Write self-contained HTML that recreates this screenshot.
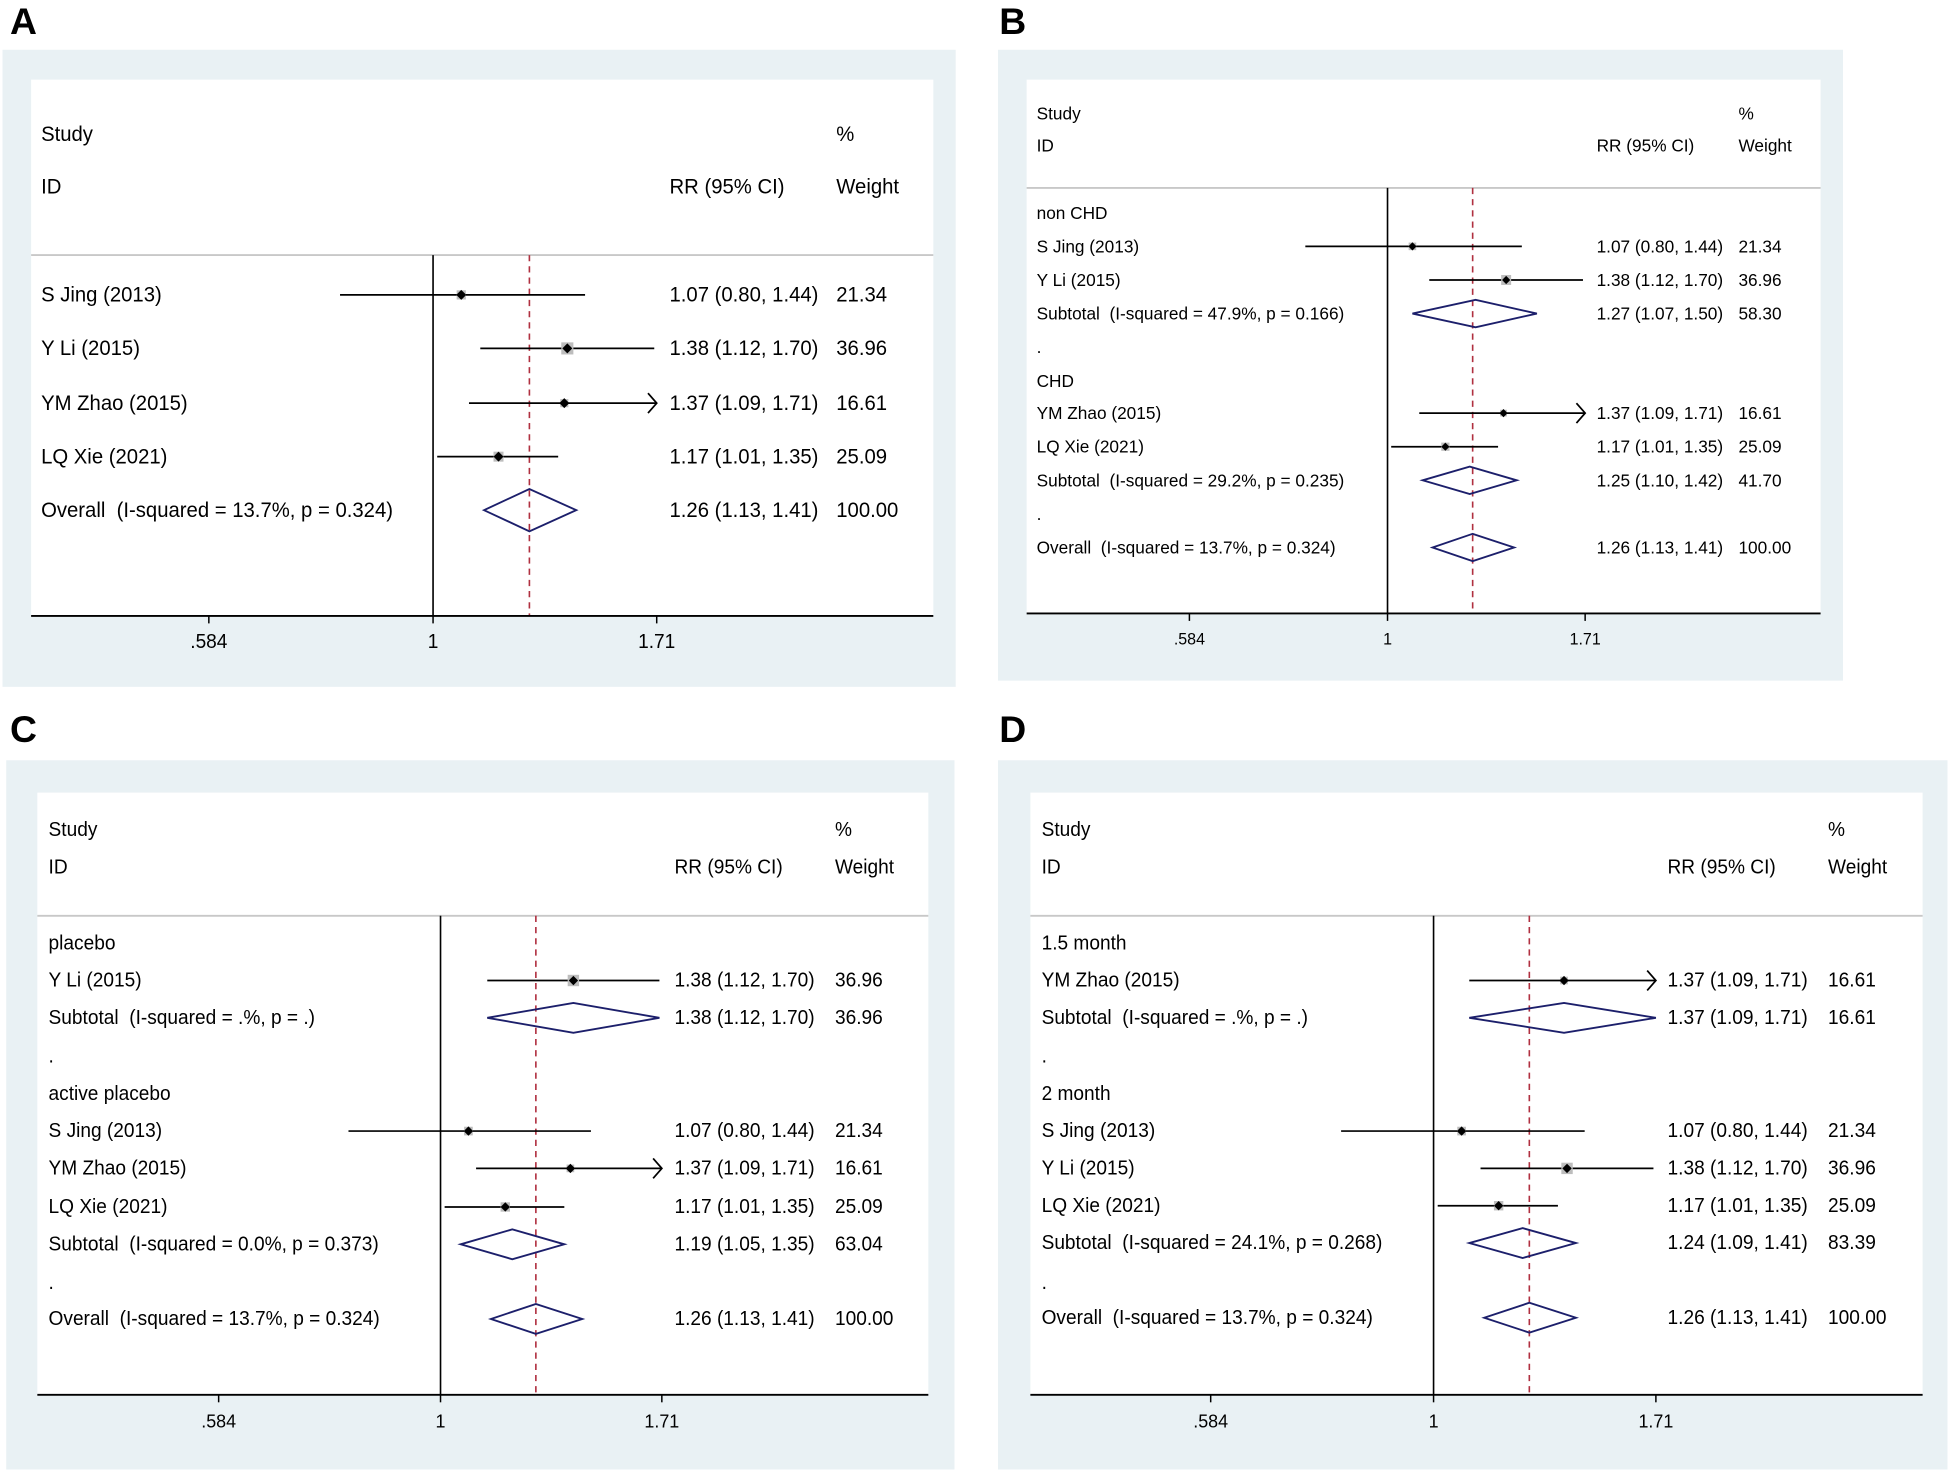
<!DOCTYPE html>
<html><head><meta charset="utf-8"><style>
html,body{margin:0;padding:0;background:#fff}
svg{display:block}
text{font-family:"Liberation Sans",sans-serif;fill:#000;white-space:pre}
</style></head><body>
<svg id="fig" width="1950" height="1472" viewBox="0 0 1567 1183" preserveAspectRatio="none" xmlns="http://www.w3.org/2000/svg" xml:space="preserve"></svg>
<script>
// ---- data ----
const tickLabels = [".584", "1", "1.71"];
const tickValues = [0.584, 1, 1.71];
const overallRR = 1.26;

const aLabels = ["S Jing (2013)", "Y Li (2015)", "YM Zhao (2015)", "LQ Xie (2021)", "Overall  (I-squared = 13.7%, p = 0.324)"];
const aEst = [1.07, 1.38, 1.37, 1.17, 1.26];
const aLo = [0.80, 1.12, 1.09, 1.01, 1.13];
const aHi = [1.44, 1.70, 1.71, 1.35, 1.41];
const aWeight = ["21.34", "36.96", "16.61", "25.09", "100.00"];
const aType = ["s", "s", "s", "s", "d"];

const bLabels = ["non CHD", "S Jing (2013)", "Y Li (2015)", "Subtotal  (I-squared = 47.9%, p = 0.166)", ".", "CHD", "YM Zhao (2015)", "LQ Xie (2021)", "Subtotal  (I-squared = 29.2%, p = 0.235)", ".", "Overall  (I-squared = 13.7%, p = 0.324)"];
const bEst = [null, 1.07, 1.38, 1.27, null, null, 1.37, 1.17, 1.25, null, 1.26];
const bLo = [null, 0.80, 1.12, 1.07, null, null, 1.09, 1.01, 1.10, null, 1.13];
const bHi = [null, 1.44, 1.70, 1.50, null, null, 1.71, 1.35, 1.42, null, 1.41];
const bWeight = ["", "21.34", "36.96", "58.30", "", "", "16.61", "25.09", "41.70", "", "100.00"];
const bType = ["h", "s", "s", "d", "h", "h", "s", "s", "d", "h", "d"];

const cLabels = ["placebo", "Y Li (2015)", "Subtotal  (I-squared = .%, p = .)", ".", "active placebo", "S Jing (2013)", "YM Zhao (2015)", "LQ Xie (2021)", "Subtotal  (I-squared = 0.0%, p = 0.373)", ".", "Overall  (I-squared = 13.7%, p = 0.324)"];
const cEst = [null, 1.38, 1.38, null, null, 1.07, 1.37, 1.17, 1.19, null, 1.26];
const cLo = [null, 1.12, 1.12, null, null, 0.80, 1.09, 1.01, 1.05, null, 1.13];
const cHi = [null, 1.70, 1.70, null, null, 1.44, 1.71, 1.35, 1.35, null, 1.41];
const cWeight = ["", "36.96", "36.96", "", "", "21.34", "16.61", "25.09", "63.04", "", "100.00"];
const cType = ["h", "s", "d", "h", "h", "s", "s", "s", "d", "h", "d"];

const dLabels = ["1.5 month", "YM Zhao (2015)", "Subtotal  (I-squared = .%, p = .)", ".", "2 month", "S Jing (2013)", "Y Li (2015)", "LQ Xie (2021)", "Subtotal  (I-squared = 24.1%, p = 0.268)", ".", "Overall  (I-squared = 13.7%, p = 0.324)"];
const dEst = [null, 1.37, 1.37, null, null, 1.07, 1.38, 1.17, 1.24, null, 1.26];
const dLo = [null, 1.09, 1.09, null, null, 0.80, 1.12, 1.01, 1.09, null, 1.13];
const dHi = [null, 1.71, 1.71, null, null, 1.44, 1.70, 1.35, 1.41, null, 1.41];
const dWeight = ["", "16.61", "16.61", "", "", "21.34", "36.96", "25.09", "83.39", "", "100.00"];
const dType = ["h", "s", "d", "h", "h", "s", "s", "s", "d", "h", "d"];

// ---- layout ----
const NS = "http://www.w3.org/2000/svg";
const svg = document.getElementById("fig");
function mk(tag, attrs, parent) {
  const e = document.createElementNS(NS, tag);
  for (const k in attrs) e.setAttribute(k, attrs[k]);
  (parent || svg).appendChild(e);
  return e;
}
function txt(parent, x, y, s, fs, sx, anchor, weight) {
  const t = mk("text", {transform: `translate(${x},${y}) scale(${sx},1)`, "font-size": fs, "dominant-baseline": "central"}, parent);
  if (anchor) t.setAttribute("text-anchor", anchor);
  if (weight) t.setAttribute("font-weight", weight);
  t.textContent = s;
  return t;
}

const panels = [
  {id:"a", letter:"A", lx:8, ly:17, outer:[2,40,766,512], inner:[25,64,725,431], sep:205, axisY:495, nullX:348, ppu:335, rows:[237,280,324,367,410],
   hdrY1:108, hdrY2:150, sx:33, rrx:538, wx:672, fs:17, sc:0.96, dh:17, L:aLabels, E:aEst, LO:aLo, HI:aHi, W:aWeight, T:aType},
  {id:"b", letter:"B", lx:803, ly:17, outer:[802,40,679,507], inner:[825,64,638,429], sep:151, axisY:493, nullX:1115, ppu:296, rows:[171,198,225,252,279,306,332,359,386,413,440],
   hdrY1:91, hdrY2:117, sx:833, rrx:1283, wx:1397, fs:14, sc:0.99, dh:11, L:bLabels, E:bEst, LO:bLo, HI:bHi, W:bWeight, T:bType},
  {id:"c", letter:"C", lx:8, ly:586, outer:[5,611,762,570], inner:[30,637,716,484], sep:736, axisY:1121, nullX:354, ppu:331.5, rows:[758,788,818,849,879,909,939,970,1000,1031,1060],
   hdrY1:667, hdrY2:697, sx:39, rrx:542, wx:671, fs:16, sc:0.96, dh:12, L:cLabels, E:cEst, LO:cLo, HI:cHi, W:cWeight, T:cType},
  {id:"d", letter:"D", lx:803, ly:586, outer:[802,611,763,570], inner:[828,637,717,484], sep:736, axisY:1121, nullX:1152, ppu:333, rows:[758,788,818,849,879,909,939,969,999,1031,1059],
   hdrY1:667, hdrY2:697, sx:837, rrx:1340, wx:1469, fs:16, sc:0.96, dh:12, L:dLabels, E:dEst, LO:dLo, HI:dHi, W:dWeight, T:dType}
];

function fmt(v){return v.toFixed(2);}

panels.forEach(p => {
  const g = mk("g", {});
  
  
  const X = v => p.nullX + Math.log(v) * p.ppu;
  const L = txt(g, p.lx, p.ly, p.letter, 30, 1, null, "bold");
  
  
  const o = mk("rect", {x:p.outer[0], y:p.outer[1], width:p.outer[2], height:p.outer[3], fill:"#e9f1f4"}, g);
  
  
  const ir = mk("rect", {x:p.inner[0], y:p.inner[1], width:p.inner[2], height:p.inner[3], fill:"#fff"}, g);
  
  
  const x0 = p.inner[0], x1 = p.inner[0] + p.inner[2];
  const hg = mk("g", {}, g);
  
  
  txt(hg, p.sx, p.hdrY1, "Study", p.fs, p.sc);
  txt(hg, p.sx, p.hdrY2, "ID", p.fs, p.sc);
  txt(hg, p.rrx, p.hdrY2, "RR (95% CI)", p.fs, p.sc);
  txt(hg, p.wx, p.hdrY1, "%", p.fs, p.sc);
  txt(hg, p.wx, p.hdrY2, "Weight", p.fs, p.sc);
  const sep = mk("line", {x1:x0, x2:x1, y1:p.sep, y2:p.sep, stroke:"#c8c8c8", "stroke-width":1.5}, g);
  
  
  const nl = mk("line", {x1:p.nullX, x2:p.nullX, y1:p.sep, y2:p.axisY, stroke:"#000", "stroke-width":1.3}, g);
  
  
  const ox = X(overallRR);
  const ol = mk("line", {x1:ox, x2:ox, y1:p.sep, y2:p.axisY, stroke:"#b03040", "stroke-width":1.3, "stroke-dasharray":"5,4"}, g);
  
  
  const ax = mk("line", {x1:x0, x2:x1, y1:p.axisY, y2:p.axisY, stroke:"#000", "stroke-width":1.5}, g);
  
  
  tickValues.forEach((v, i) => {
    const tx = X(v);
    const tk = mk("line", {x1:tx, x2:tx, y1:p.axisY, y2:p.axisY + 6, stroke:"#000", "stroke-width":1.2}, g);
    
    
    const tl = txt(g, tx, p.axisY + 21, tickLabels[i], p.fs - 1, p.sc, "middle");
    
    
  });
  p.L.forEach((lab, i) => {
    const y = p.rows[i];
    const rg = mk("g", {}, g);
    
    
    txt(rg, p.sx, y, lab, p.fs, p.sc);
    if (p.E[i] == null) return;
    txt(rg, p.rrx, y, `${fmt(p.E[i])} (${fmt(p.LO[i])}, ${fmt(p.HI[i])})`, p.fs, p.sc);
    txt(rg, p.wx, y, p.W[i], p.fs, p.sc);
    const ex = X(p.E[i]), lx = X(p.LO[i]);
    const hiClip = Math.min(p.HI[i], tickValues[2]);
    const hx = X(hiClip);
    if (p.T[i] === "d") {
      const dm = mk("polygon", {points:`${lx},${y} ${ex},${y - p.dh} ${hx},${y} ${ex},${y + p.dh}`, fill:"none", stroke:"#1c1f6b", "stroke-width":1.5}, rg);
      
      
    } else {
      const ci = mk("line", {x1:lx, x2:hx, y1:y, y2:y, stroke:"#000", "stroke-width":1.4}, rg);
      
      
      if (p.HI[i] >= tickValues[2]) {
        const ar = mk("polyline", {points:`${hx - 7},${y - 8} ${hx},${y} ${hx - 7},${y + 8}`, fill:"none", stroke:"#000", "stroke-width":1.4}, rg);
        
        
      }
      const w = parseFloat(p.W[i]);
      const s = Math.sqrt(w) * 1.6 * (p.fs / 17);
      const sq = mk("rect", {x:ex - s / 2, y:y - s / 2, width:s, height:s, fill:"#bdbdbd"}, rg);
      
      
      const r = 4 * (p.fs / 17);
      const pt = mk("polygon", {points:`${ex - r},${y} ${ex},${y - r} ${ex + r},${y} ${ex},${y + r}`, fill:"#000"}, rg);
      
      
    }
  });
});
</script>
</body></html>
